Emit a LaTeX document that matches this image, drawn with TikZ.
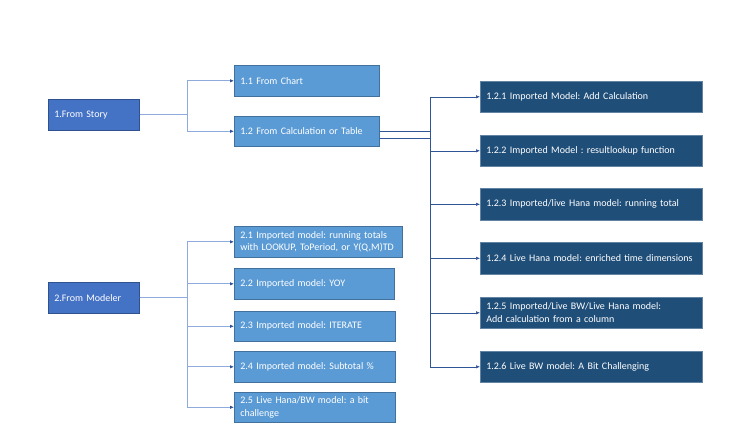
\documentclass[tikz,border=0pt]{standalone}
\usepackage{fontspec}
\setmainfont{Carlito}
\frenchspacing
\usetikzlibrary{positioning, arrows.meta, calc}
\definecolor{storyBlue}{HTML}{4472C4}
\definecolor{storyEdge}{HTML}{2F528F}
\definecolor{midBlue}{HTML}{5B9BD5}
\definecolor{midEdge}{HTML}{41719C}
\definecolor{deepBlue}{HTML}{1F4E79}
\definecolor{linkBlue}{HTML}{2F5597}
\definecolor{linkLight}{HTML}{8FAADC}
\tikzset{
  every node/.style={font=\fontsize{10}{12.6}\selectfont},
  box/.style={anchor=north west, minimum height=31pt, inner xsep=6pt, inner ysep=0pt,
              align=left, text=white, line width=0.6pt},
  rootbox/.style={box, fill=storyBlue, draw=storyEdge},
  midbox/.style={box, fill=midBlue, draw=midEdge},
  leafbox/.style={box, fill=deepBlue, draw=deepBlue!70!white, text width=210pt},
  link/.style={draw=linkLight, line width=1pt, -{Latex[length=4pt,width=3.5pt,color=linkBlue]}},
  linkd/.style={draw=linkBlue, line width=0.6pt, -{Latex[length=4pt,width=3.5pt]}},
}

\begin{document}
\begin{tikzpicture}[x=1pt, y=-1pt]
  \fill[white] (0,0) rectangle (745,437);
  \useasboundingbox (0,0) rectangle (745,437);
  % roots
  \node[rootbox, text width=79pt] (story) at (48,99) {1.From Story};
  \node[rootbox, text width=79pt] (modeler) at (48,282) {2.From Modeler};
  % from story
  \node[midbox, text width=133pt] (chart) at (234,65) {1.1 From Chart};
  \node[midbox, text width=133pt, minimum height=30pt] (calc) at (234,116) {1.2 From Calculation or Table};
  % from calculation
  \node[leafbox] (l1) at (480,81) {1.2.1 Imported Model: Add Calculation};
  \node[leafbox] (l2) at (480,135) {1.2.2 Imported Model : resultlookup function};
  \node[leafbox, minimum height=32pt] (l3) at (480,188) {1.2.3 Imported/live Hana model: running total};
  \node[leafbox, minimum height=32pt] (l4) at (480,242) {1.2.4 Live Hana model: enriched time dimensions};
  \node[leafbox] (l5) at (480,297) {1.2.5 Imported/Live BW/Live Hana model:\\Add calculation from a column};
  \node[leafbox] (l6) at (480,351) {1.2.6 Live BW model: A Bit Challenging};
  % from modeler
  \node[midbox, text width=156pt] (m1) at (234,226) {2.1 Imported model: running totals\\with LOOKUP, ToPeriod, or Y(Q,M)TD};
  \node[midbox, text width=148pt] (m2) at (234,268) {2.2 Imported model: YOY};
  \node[midbox, text width=149pt, minimum height=30pt] (m3) at (234,311) {2.3 Imported model: ITERATE};
  \node[midbox, text width=149pt] (m4) at (234,351) {2.4 Imported model: Subtotal \%};
  \node[midbox, text width=149pt, minimum height=30pt] (m5) at (234,392) {2.5 Live Hana/BW model: a bit\\challenge};
  % connectors
  \foreach \t in {chart,calc}
    \draw[link] (story.east) -- ++(48,0) |- (\t.west);
  \foreach \t in {m1,m2,m3,m4,m5}
    \draw[link] (modeler.east) -- ++(48,0) |- (\t.west);
  \foreach \t in {l1,l2}
    \draw[linkd] (calc.east) -- ++(51,0) |- (\t.west);
  \foreach \t in {l3,l4,l5,l6}
    \draw[linkd] ([yshift=-7pt]calc.east) -- ++(51,0) |- (\t.west);
\end{tikzpicture}
\end{document}
